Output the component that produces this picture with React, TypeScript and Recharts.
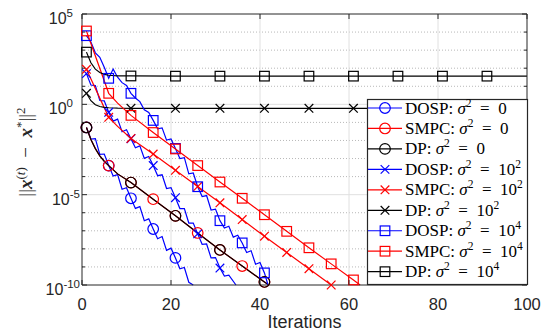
import React from 'react';
import { LineChart, Line, XAxis, YAxis, CartesianGrid, ReferenceLine, Legend } from 'recharts';

// ---------------- data (y values are log10 of ||x(t) - x*||^2) ----------------
const dosp0Iter = [1,2,3,4,5,6,7,8,9,10,11,12,13,14,15,16,17,18,19,20,21,22,23,24,25];
const dosp0Log = [-1.28,-1.92,-1.90,-2.77,-2.75,-3.39,-3.97,-3.89,-4.70,-4.62,-5.20,-5.76,-5.66,-6.44,-6.34,-6.90,-7.44,-7.32,-8.08,-7.96,-8.50,-9.10,-9.03,-9.85,-10.0];

const smpc0Iter = [1,2,3,4,5,6,8,11,16,21,26,31,36,41,42];
const smpc0Log = [-1.28,-1.95,-2.45,-2.85,-3.15,-3.39,-3.85,-4.33,-5.25,-6.17,-7.12,-8.06,-8.95,-9.83,-10.0];

const dp0Iter = [1,2,3,4,5,6,8,11,16,21,26,31,36,41,42];
const dp0Log = [-1.28,-1.95,-2.45,-2.85,-3.15,-3.39,-3.85,-4.33,-5.25,-6.17,-7.12,-8.06,-8.95,-9.83,-10.0];

const dosp2Iter = [1,2,3,4,5,6,7,8,9,10,11,12,13,14,15,16,17,18,19,20,21,22,23,24,25,26,27,28,29,30,31,32,33,34.6];
const dosp2Log = [1.70,1.07,1.04,0.21,0.19,-0.44,-0.93,-0.82,-1.52,-1.41,-1.90,-2.40,-2.30,-2.99,-2.89,-3.39,-3.95,-3.90,-4.66,-4.61,-5.17,-5.77,-5.77,-6.57,-6.57,-7.17,-7.75,-7.73,-8.50,-8.48,-9.06,-9.50,-9.45,-10.0];

const smpc2Iter = [1,6,8,11,16,21,26,31,36,41,46,51,56];
const smpc2Log = [1.94,-0.72,-1.22,-1.89,-2.75,-3.65,-4.55,-5.45,-6.38,-7.30,-8.20,-9.10,-10.0];

const dp2Iter = [1,2,3,4,5,6,8,11,21,31,41,51,61,71,81,91,100];
const dp2Log = [0.61,0.20,-0.02,-0.12,-0.17,-0.19,-0.21,-0.22,-0.22,-0.22,-0.22,-0.22,-0.22,-0.22,-0.22,-0.22,-0.22];

const dosp4Iter = [1,2,3,4,5,6,7,8,9,10,11,12,13,14,15,16,17,18,19,20,21,22,23,24,25,26,27,28,29,30,31,32,33,34,35,36,37,38,39,40,41,41.8];
const dosp4Log = [3.80,3.45,2.85,2.60,2.05,1.44,1.95,1.50,1.20,1.05,0.61,0.35,0.15,-0.30,-0.45,-0.89,-1.35,-1.30,-1.98,-1.92,-2.44,-3.00,-2.95,-3.85,-3.80,-4.56,-5.10,-5.05,-5.85,-5.80,-6.44,-6.85,-6.75,-7.35,-7.25,-7.67,-8.20,-8.10,-8.85,-8.75,-9.33,-10.0];

const smpc4Iter = [1,6,8,11,16,21,26,31,36,41,46,51,56,61,62.5];
const smpc4Log = [4.06,0.61,0.07,-0.61,-1.56,-2.47,-3.39,-4.30,-5.20,-6.11,-7.03,-7.94,-8.83,-9.72,-10.0];

const dp4Iter = [1,2,3,4,5,6,8,11,21,31,41,51,61,71,81,91,100];
const dp4Log = [2.89,2.30,1.95,1.76,1.66,1.61,1.58,1.57,1.56,1.56,1.56,1.56,1.56,1.56,1.56,1.56,1.56];

const xTicks = [0, 20, 40, 60, 80, 100];
const yDecades = [-10,-9,-8,-7,-6,-5,-4,-3,-2,-1,0,1,2,3,4,5];
const yMajor = [-10, -5, 0, 5];

const legendNames = ['DOSP', 'SMPC', 'DP', 'DOSP', 'SMPC', 'DP', 'DOSP', 'SMPC', 'DP'];
const legendSigma = ['0', '0', '0', '10^2', '10^2', '10^2', '10^4', '10^4', '10^4'];

// ---------------- styling ----------------
const PLOT = { left: 82, right: 527, top: 14, bottom: 285 };
const AX = '#262626';
const BLUE = '#0000ff', RED = '#ff0000', BLACK = '#000000';

type Marker = 'circle' | 'x' | 'square';
const build = (it: number[], lg: number[]) => it.map((x, i) => ({ iter: x, v: lg[i] }));

const series = [
  { key: 'dosp0', data: build(dosp0Iter, dosp0Log), color: BLUE, marker: 'circle' as Marker, every: 5 },
  { key: 'smpc0', data: build(smpc0Iter, smpc0Log), color: RED, marker: 'circle' as Marker, every: 5 },
  { key: 'dp0', data: build(dp0Iter, dp0Log), color: BLACK, marker: 'circle' as Marker, every: 10 },
  { key: 'dosp2', data: build(dosp2Iter, dosp2Log), color: BLUE, marker: 'x' as Marker, every: 5 },
  { key: 'smpc2', data: build(smpc2Iter, smpc2Log), color: RED, marker: 'x' as Marker, every: 5 },
  { key: 'dp2', data: build(dp2Iter, dp2Log), color: BLACK, marker: 'x' as Marker, every: 10 },
  { key: 'dosp4', data: build(dosp4Iter, dosp4Log), color: BLUE, marker: 'square' as Marker, every: 5 },
  { key: 'smpc4', data: build(smpc4Iter, smpc4Log), color: RED, marker: 'square' as Marker, every: 5 },
  { key: 'dp4', data: build(dp4Iter, dp4Log), color: BLACK, marker: 'square' as Marker, every: 10 },
];

const drawMarker = (m: Marker, cx: number, cy: number, color: string, key?: string) => {
  if (m === 'circle') return <circle key={key} cx={cx} cy={cy} r={5.3} fill="none" stroke={color} strokeWidth={1.2} />;
  if (m === 'square') return <rect key={key} x={cx - 4.8} y={cy - 4.8} width={9.6} height={9.6} fill="none" stroke={color} strokeWidth={1.2} />;
  return (
    <g key={key}>
      <line x1={cx - 4.3} y1={cy - 4.3} x2={cx + 4.3} y2={cy + 4.3} stroke={color} strokeWidth={1.2} />
      <line x1={cx - 4.3} y1={cy + 4.3} x2={cx + 4.3} y2={cy - 4.3} stroke={color} strokeWidth={1.2} />
    </g>
  );
};

const makeDot = (m: Marker, color: string, every: number, sk: string) => (props: any) => {
  const { cx, cy, payload, index } = props;
  const it = payload?.iter;
  const k = `${sk}-${index}`;
  if (cx == null || cy == null || !Number.isInteger(it) || (it - 1) % every !== 0) return <g key={k} />;
  return drawMarker(m, cx, cy, color, k);
};

const YTick = (props: any) => {
  const { y, payload } = props;
  const v = payload.value as number;
  const major = yMajor.includes(v);
  const len = major ? 5 : 3;
  return (
    <g>
      <line x1={PLOT.left} x2={PLOT.left + len} y1={y} y2={y} stroke={AX} strokeWidth={1} />
      <line x1={PLOT.right} x2={PLOT.right - len} y1={y} y2={y} stroke={AX} strokeWidth={1} />
      {major && (
        <text x={v < 0 ? 80 : 73} y={y + 10} textAnchor="end" fill={AX}
          fontFamily="'Liberation Sans', Arial, sans-serif" fontSize={16}>
          10<tspan dy={-7} fontSize={11.5}>{String(v)}</tspan>
        </text>
      )}
    </g>
  );
};

const XTick = (props: any) => {
  const { x, payload } = props;
  return (
    <g>
      <line x1={x} x2={x} y1={PLOT.bottom} y2={PLOT.bottom - 5} stroke={AX} strokeWidth={1} />
      <line x1={x} x2={x} y1={PLOT.top} y2={PLOT.top + 5} stroke={AX} strokeWidth={1} />
      <text x={x} y={310} textAnchor="middle" fill={AX}
        fontFamily="'Liberation Sans', Arial, sans-serif" fontSize={16.5}>{payload.value}</text>
    </g>
  );
};

const YLabel = () => {
  const cx = 32, cy = 152;
  const serif = "'Liberation Serif', 'Times New Roman', serif";
  return (
    <text x={cx} y={cy} transform={`rotate(-90, ${cx}, ${cy})`} textAnchor="middle" fill={AX}
      fontFamily={serif} fontSize={19}>
      {'||'}
      <tspan fontStyle="italic" fontWeight="bold">x</tspan>
      <tspan dy={-7} fontSize={13}>(</tspan>
      <tspan fontSize={13} fontStyle="italic">t</tspan>
      <tspan fontSize={13}>)</tspan>
      <tspan dy={7}>{'\u2002\u2212\u2002'}</tspan>
      <tspan fontStyle="italic" fontWeight="bold">x</tspan>
      <tspan dy={-7} fontSize={13}>*</tspan>
      <tspan dy={7}>{'||'}</tspan>
      <tspan dy={-7} fontSize={13}>2</tspan>
    </text>
  );
};

const XLabel = () => (
  <text x={(PLOT.left + PLOT.right) / 2} y={328} textAnchor="middle" fill={AX}
    fontFamily="'Liberation Sans', Arial, sans-serif" fontSize={18}>Iterations</text>
);

const renderLegend = () => {
  const serif = "'Liberation Serif', 'Times New Roman', serif";
  return (
    <svg width={163} height={188} style={{ display: 'block' }}>
      <rect x={1.5} y={1.5} width={160} height={185} fill="#ffffff" stroke={AX} strokeWidth={1.2} />
      {series.map((s, i) => {
        const y = 10 + i * 20.46;
        const sig = legendSigma[i];
        const [base, exp] = sig.includes('^') ? sig.split('^') : [sig, ''];
        return (
          <g key={s.key}>
            <line x1={2} x2={36} y1={y} y2={y} stroke={s.color} strokeWidth={1.2} />
            {drawMarker(s.marker, 19, y, s.color)}
            <text x={39} y={y + 5.5} fill="#000" fontFamily={serif} fontSize={17}>
              {legendNames[i] + ':\u00A0'}
              <tspan fontStyle="italic">{'\u03C3'}</tspan>
              <tspan dy={-7} fontSize={11.5}>2</tspan>
              <tspan dy={7}>{'\u2002=\u2002' + base}</tspan>
              {exp && <tspan dy={-7} fontSize={11.5}>{exp}</tspan>}
            </text>
          </g>
        );
      })}
    </svg>
  );
};

export default function App() {
  return (
    <div style={{ position: 'absolute', left: 0, top: 0, width: 547, height: 333, background: '#fff' }}>
      <LineChart width={547} height={333} margin={{ top: 14, right: 20, left: 0, bottom: 0 }}>
        <CartesianGrid vertical={false} horizontalValues={yDecades.filter(d => !yMajor.includes(d))}
          stroke="#b8b8b8" strokeDasharray="1 2" strokeWidth={1} />
        <CartesianGrid horizontalValues={[-5, 0]} verticalValues={[20, 40, 60, 80]}
          stroke="#e0e0e0" strokeWidth={1} />
        <XAxis type="number" dataKey="iter" domain={[0, 100]} ticks={xTicks} interval={0}
          height={48} tickLine={false} axisLine={{ stroke: AX, strokeWidth: 1 }} tick={<XTick />}
          label={<XLabel />} allowDecimals={false} />
        <YAxis type="number" domain={[-10, 5]} ticks={yDecades} interval={0} width={82}
          tickLine={false} axisLine={{ stroke: AX, strokeWidth: 1 }} tick={<YTick />}
          label={<YLabel />} />
        {series.map(s => (
          <Line key={s.key} data={s.data} dataKey="v" type="linear" stroke={s.color} strokeWidth={1.2}
            dot={makeDot(s.marker, s.color, s.every, s.key)} activeDot={false}
            isAnimationActive={false} connectNulls />
        ))}
        <ReferenceLine y={5} stroke={AX} strokeWidth={1} />
        <ReferenceLine x={100} stroke={AX} strokeWidth={1} />
        <Legend content={renderLegend} layout="vertical" align="center" verticalAlign="middle"
          wrapperStyle={{ left: 366, top: 98, width: 163, height: 188 }} />
      </LineChart>
    </div>
  );
}
